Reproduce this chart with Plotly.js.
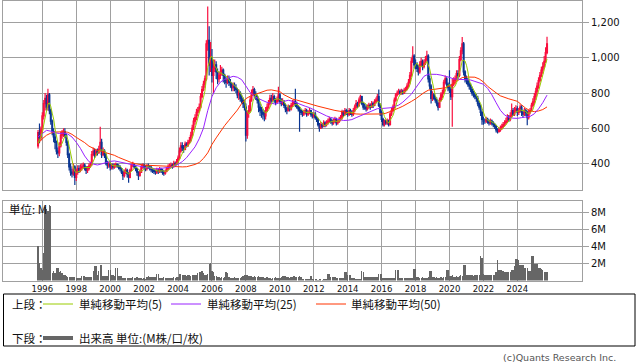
<!DOCTYPE html>
<html>
<head>
<meta charset="utf-8">
<script src="https://cdn.plot.ly/plotly-3.0.1.min.js"></script>
<style>
html,body{margin:0;padding:0;background:#fff;}
#chart{width:638px;height:362px;}
</style>
</head>
<body>
<div id="chart"></div>
<script>
// ---- data (monthly, starting Oct 1995) ----
const START_YEAR = 1995;
const START_MONTH = 10;

const openPrice = [
500,575,545,
590,670,740,770,720,790,700,640,580,550,520,470,
460,500,560,575,580,560,520,450,380,350,340,380,
320,350,370,360,375,380,390,375,360,370,385,395,
450,470,450,470,460,480,520,450,470,450,400,390,
395,380,390,380,390,395,385,380,370,350,330,350,
360,340,320,360,390,395,380,370,350,330,350,380,
390,380,370,385,380,375,365,360,355,350,360,355,
365,360,350,345,355,370,380,385,390,385,400,395,
410,430,470,500,490,480,510,500,520,530,560,600,
640,660,690,700,720,780,820,850,880,1080,1100,960,
1000,900,940,960,920,880,900,920,930,900,870,860,
880,860,850,830,840,830,820,790,800,770,760,740,
720,560,690,700,760,800,820,790,780,760,720,700,
690,680,670,700,720,740,770,760,780,760,750,760,
790,750,740,750,730,710,700,720,710,730,740,750,
740,720,710,700,690,680,690,700,680,690,700,680,
670,680,660,650,620,600,620,610,630,620,630,640,
650,640,630,640,650,630,640,650,660,690,680,700,
690,680,700,690,680,700,720,740,730,760,780,740,
720,720,710,720,730,720,740,730,750,760,780,730,
690,650,620,640,630,640,620,680,700,720,760,790,
800,810,800,810,800,815,820,840,860,900,980,1010,
960,960,940,920,960,980,950,970,990,1010,880,840,
770,790,770,760,740,720,760,790,800,860,880,850,
830,820,780,850,870,880,910,900,990,1040,1080,920,
880,870,850,840,820,800,790,780,770,740,720,690,
650,640,640,650,640,630,640,630,620,610,590,580,
590,600,610,620,630,640,660,650,670,700,680,700,
710,690,700,720,690,680,700,690,660,690,700,730,
750,780,810,840,870,900,930,950,980,1030
];

const highPrice = [
590,627,610,
690,760,800,790,825,800,710,650,600,570,530,490,
520,580,590,600,600,570,530,460,400,370,400,390,
370,390,390,395,400,405,400,385,385,400,410,470,
490,485,480,485,500,608,540,490,480,460,415,410,
410,400,400,400,405,400,395,390,375,360,365,375,
370,350,370,400,410,400,390,375,355,365,395,400,
400,390,395,400,390,385,375,370,365,375,370,380,
375,370,360,365,380,395,400,405,400,415,410,425,
445,490,520,520,505,525,520,535,550,580,620,660,
680,710,720,740,800,840,870,900,1100,1292,1180,1090,
1050,990,990,980,940,920,960,950,940,910,890,900,
900,880,860,860,860,850,830,820,810,790,775,760,
740,700,730,780,820,840,830,810,790,770,740,720,
710,700,720,740,760,790,790,800,790,770,780,835,
800,770,770,760,740,720,735,730,745,760,765,825,
750,730,720,710,700,705,715,710,700,715,705,690,
690,695,670,660,630,635,630,645,640,645,655,665,
660,650,655,665,660,650,665,675,705,700,715,710,
700,715,710,700,715,735,760,750,775,790,785,750,
740,735,735,745,740,755,750,765,775,795,820,740,
700,660,650,650,655,650,690,715,735,775,800,815,
825,820,825,820,830,835,855,880,920,1000,1066,1020,
990,975,960,980,1000,990,990,1010,1040,1020,900,850,
810,800,785,775,750,775,805,820,875,900,890,860,
930,850,880,890,900,930,930,1010,1060,1118,1090,930,
900,885,870,855,835,815,805,795,785,755,735,700,
665,655,665,660,650,655,650,640,630,620,600,605,
615,625,635,645,660,680,675,690,740,715,720,730,
725,715,735,730,705,715,710,700,705,715,745,770,
800,830,860,890,920,950,975,1010,1060,1120
];

const lowPrice = [
485,515,530,
570,650,700,700,700,680,620,560,520,480,450,430,
440,490,540,550,545,500,430,360,330,320,330,277,
300,335,345,350,360,370,360,340,345,360,375,385,
440,430,440,445,455,470,430,440,430,390,370,375,
360,365,365,370,375,375,365,355,340,305,320,340,
320,290,315,355,380,370,355,330,305,325,345,370,
365,355,360,370,360,350,345,340,335,340,340,345,
345,335,330,335,350,360,370,375,370,375,380,390,
400,420,460,470,460,475,490,495,510,520,550,590,
620,645,670,690,710,770,810,830,870,1040,900,920,
860,800,920,880,850,860,880,900,860,850,830,850,
840,830,810,810,810,800,770,760,750,740,715,700,
525,540,660,690,750,790,770,760,740,690,670,660,
650,640,650,690,710,730,745,750,745,730,740,750,
740,725,730,715,690,680,695,695,700,720,730,720,
710,695,580,675,665,670,680,665,670,680,665,655,
660,650,635,610,580,595,600,605,605,610,620,630,
625,615,620,630,615,620,630,640,650,665,670,675,
665,670,675,665,670,690,710,715,720,745,730,705,
705,695,700,710,705,715,715,725,740,750,720,670,
635,610,610,620,620,610,615,670,690,710,750,780,
790,790,790,790,795,805,815,830,850,890,970,940,
935,920,900,910,950,930,940,960,980,860,820,740,
755,760,745,725,700,715,750,770,795,850,835,810,
800,760,608,840,850,870,880,890,980,1020,900,860,
850,835,820,805,785,775,765,750,725,705,670,620,
620,625,630,625,615,620,615,605,595,575,570,575,
580,590,600,610,620,630,635,640,660,670,670,690,
670,675,690,670,660,670,670,617,650,680,695,720,
735,760,795,825,860,890,910,940,970,1020
];

const closePrice = [
575,545,590,
670,740,770,720,790,700,640,580,550,520,470,460,
500,560,575,580,560,520,450,380,350,340,380,320,
350,370,360,375,380,390,375,360,370,385,395,450,
470,450,470,460,480,520,450,470,450,400,390,395,
380,390,380,390,395,385,380,370,350,330,350,360,
340,320,360,390,395,380,370,350,330,350,380,390,
380,370,385,380,375,365,360,355,350,360,355,365,
360,350,345,355,370,380,385,390,385,400,395,410,
430,470,500,490,480,510,500,520,530,560,600,640,
660,690,700,720,780,820,850,880,1080,1100,960,1000,
900,940,960,920,880,900,920,930,900,870,860,880,
860,850,830,840,830,820,790,800,770,760,740,720,
560,690,700,760,800,820,790,780,760,720,700,690,
680,670,700,720,740,770,760,780,760,750,760,790,
750,740,750,730,710,700,720,710,730,740,750,740,
720,710,700,690,680,690,700,680,690,700,680,670,
680,660,650,620,600,620,610,630,620,630,640,650,
640,630,640,650,630,640,650,660,690,680,700,690,
680,700,690,680,700,720,740,730,760,780,740,720,
720,710,720,730,720,740,730,750,760,780,730,690,
650,620,640,630,640,620,680,700,720,760,790,800,
810,800,810,800,815,820,840,860,900,980,1010,960,
960,940,920,960,980,950,970,990,1010,880,840,770,
790,770,760,740,720,760,790,800,860,880,850,830,
820,780,850,870,880,910,900,990,1040,1080,920,880,
870,850,840,820,800,790,780,770,740,720,690,650,
640,640,650,640,630,640,630,620,610,590,580,590,
600,610,620,630,640,660,650,670,700,680,700,710,
690,700,720,690,680,700,690,660,690,700,730,750,
780,810,840,870,900,930,950,980,1030,1080
];

// volume, millions of shares
const volumeM = [
4.1,2.1,1.5,
1.3,3.3,8.7,8.5,8.2,8.9,8.8,0.9,1.1,0.9,1.5,1.5,
1.0,1.1,0.9,0.7,0.6,0.5,0.4,0.4,0.4,0.4,0.4,0.4,
0.3,0.3,0.3,0.3,0.5,0.5,0.5,0.4,0.4,0.4,0.4,0.4,
1.1,1.7,1.7,0.6,1.1,1.8,1.8,0.5,0.5,0.5,0.5,1.2,
1.2,0.7,0.7,0.5,1.5,1.5,0.5,0.5,0.5,0.3,0.3,0.3,
0.3,0.3,0.3,0.3,0.4,0.3,0.3,0.4,0.3,0.3,0.3,0.2,
0.3,0.2,0.4,0.5,0.4,0.4,0.4,0.4,0.4,0.8,0.8,0.3,
0.3,0.3,0.4,0.3,0.3,0.3,0.3,0.3,0.3,0.4,0.3,0.4,
0.4,0.8,0.8,0.7,0.6,0.6,0.5,0.6,0.6,0.5,0.6,0.7,
0.6,0.7,0.9,1.0,1.0,1.1,0.9,0.7,0.7,0.8,2.0,2.1,
1.1,1.0,0.5,0.5,0.4,0.4,0.3,0.4,0.3,0.4,1.0,0.9,
0.4,0.3,0.3,0.3,0.4,0.3,0.3,0.3,0.3,0.4,0.5,0.6,
0.7,0.6,0.5,0.5,0.5,0.4,0.5,0.4,0.4,0.5,0.4,0.4,
0.4,0.3,0.3,0.4,0.3,0.3,0.2,0.3,0.3,0.4,0.3,0.3,
0.3,0.4,0.5,0.5,0.5,0.4,0.4,0.3,0.4,0.4,0.5,0.4,
0.4,0.4,0.5,0.4,0.2,0.2,0.2,0.2,0.2,0.2,0.5,0.2,
0.2,0.2,0.2,0.1,0.2,0.2,0.1,0.2,0.2,0.2,0.8,0.8,
0.4,0.4,0.4,0.4,0.3,0.3,0.3,0.3,0.3,0.3,1.0,1.0,
0.6,0.6,0.6,0.3,0.3,0.3,0.2,0.2,0.2,0.2,1.1,1.0,
0.4,0.4,0.4,0.4,0.4,0.4,0.4,0.4,0.4,0.4,0.8,0.8,
0.8,0.3,0.3,0.3,0.3,0.3,0.3,0.3,0.3,0.3,1.2,1.2,
1.2,0.3,0.3,0.3,0.3,0.3,0.3,0.3,0.3,0.3,0.3,1.4,
1.4,0.4,0.4,0.3,0.3,0.4,0.3,0.3,0.3,0.4,1.1,1.1,
0.4,0.4,0.3,0.4,0.3,0.3,0.4,0.3,0.4,0.4,1.3,1.3,
0.5,0.5,0.6,0.4,0.4,0.5,0.4,0.5,0.6,0.5,1.8,1.8,
0.6,0.6,0.7,0.6,0.6,0.5,0.6,0.6,0.6,0.6,2.9,2.7,
0.8,0.7,0.7,0.7,0.7,0.6,0.7,0.7,0.7,1.0,2.4,1.3,
1.2,1.2,1.1,1.0,1.0,1.0,1.0,1.0,1.2,1.2,1.7,2.5,
2.5,2.4,1.8,1.8,1.8,1.5,1.5,1.5,1.1,1.1,2.9,2.9,
1.9,1.9,1.9,1.5,1.5,1.4,1.3,1.0,1.0,1.0
];

// 単純移動平均(5), read monthly
const ma5 = [
515,530,550,
580,624,663,698,738,744,724,686,652,598,552,516,
500,502,513,535,555,559,537,498,452,408,380,354,
348,352,356,355,367,375,376,376,375,376,377,392,
414,430,447,460,466,476,476,476,474,458,432,421,
403,391,387,387,387,388,386,384,376,363,356,352,
346,340,346,354,361,369,379,377,365,356,356,360,
366,374,381,381,378,375,373,367,361,358,356,357,
358,358,355,355,356,360,367,376,382,388,391,396,
404,421,441,460,474,490,496,500,508,524,542,570,
598,630,658,682,710,742,774,810,882,946,974,1004,
1008,980,952,944,920,920,916,910,906,904,896,888,
874,864,856,852,842,834,822,816,802,788,772,758,
710,694,682,686,702,754,774,790,790,774,750,730,
710,692,688,692,702,720,738,754,762,764,762,768,
762,758,758,752,736,726,722,714,714,720,730,734,
736,732,724,712,700,694,692,688,688,692,690,684,
684,678,668,656,642,630,620,616,616,622,626,634,
636,638,640,642,638,638,642,646,654,664,676,684,
688,690,692,688,690,698,706,714,730,746,750,746,
744,734,722,720,720,724,728,734,740,752,750,742,
722,694,666,646,636,630,642,654,672,696,730,754,
776,792,802,804,807,809,817,827,847,880,918,942,
962,970,958,948,952,950,956,970,980,960,938,898,
858,810,786,766,756,750,754,762,786,818,836,844,
848,832,826,830,840,858,882,910,944,984,986,982,
958,920,872,852,836,820,806,792,776,760,740,714,
688,668,654,644,640,640,638,632,626,618,606,598,
594,594,600,610,620,632,640,650,664,672,680,692,
696,696,704,702,696,698,696,684,684,688,694,706,
730,754,782,810,840,870,898,926,958,994
];

// 単純移動平均(25) and (50), read every 3 months
const MA_STEP = 3;
const ma25Quarterly = [
551,572,588,583,574,570,572,567,550,520,
485,442,410,396,391,397,405,411,414,410,
405,399,393,388,382,376,372,370,369,372,
375,378,381,395,410,432,460,494,540,600,
700,780,830,862,878,888,895,890,876,840,
803,780,767,757,747,740,737,746,754,759,
753,743,731,725,717,705,690,680,670,661,
655,649,644,645,649,660,670,683,693,704,
711,712,713,716,723,731,748,770,793,828,
862,895,907,907,906,902,897,889,880,878,
879,878,874,866,858,850,826,790,745,702,
675,662,657,656,660,663,667,682,710,745,
788
];
const ma50Quarterly = [
513,540,560,572,578,580,580,577,565,548,
535,518,498,484,474,468,462,456,446,434,
423,413,405,398,392,390,389,388,386,384,
382,380,379,379,380,381,386,394,405,428,
460,508,545,582,615,645,673,703,740,768,
782,791,802,810,816,818,815,808,790,776,
766,760,752,745,738,732,725,718,712,706,
701,697,692,688,684,681,680,680,680,680,
680,681,685,694,702,714,725,737,752,767,
785,802,816,820,822,825,830,839,857,875,
888,891,892,890,880,863,838,818,801,784,
774,767,760,753,733,713,700,694,698,706,
721
];

// tick labels
const yearLabels = ['1996','1998','2000','2002','2004','2006','2008','2010','2012','2014','2016','2018','2020','2022','2024'];
const priceTickVals = [400,600,800,1000,1200];
const priceTickText = ['400','600','800','1,000','1,200'];
const volTickVals = [2,4,6,8];
const volTickText = ['2M','4M','6M','8M'];

// ---- build ----
function monthDate(i){
  const t = (START_MONTH - 1) + i;
  const y = START_YEAR + Math.floor(t / 12);
  const m = (t % 12) + 1;
  return y + '-' + (m < 10 ? '0' : '') + m + '-01';
}
const months = closePrice.map((_, i) => monthDate(i));
const quarterMonths = ma25Quarterly.map((_, k) => monthDate(k * MA_STEP));
const yearTickVals = yearLabels.map(y => y + '-01-01');

const W = 638, H = 362;
const px = x => x / W;
const py = y => 1 - y / H;

const RED = '#fa0f3e', BLUE = '#0a3592';
const GRID = '#a0a0a0';
const C_MA5 = '#99cc00', C_MA25 = '#9922ff', C_MA50 = '#ff3300';
const JP = 'Noto Sans CJK JP, sans-serif';
const LAT = 'DejaVu Sans, sans-serif';

const traces = [
  {
    type: 'candlestick', x: months,
    open: openPrice, high: highPrice, low: lowPrice, close: closePrice,
    xaxis: 'x', yaxis: 'y',
    increasing: {line: {color: RED, width: 1.2}, fillcolor: RED},
    decreasing: {line: {color: BLUE, width: 1.2}, fillcolor: BLUE},
    whiskerwidth: 0, hoverinfo: 'none', showlegend: false
  },
  {type: 'scatter', mode: 'lines', x: quarterMonths, y: ma50Quarterly, xaxis: 'x', yaxis: 'y',
   line: {color: C_MA50, width: 1}, hoverinfo: 'none', showlegend: false},
  {type: 'scatter', mode: 'lines', x: quarterMonths, y: ma25Quarterly, xaxis: 'x', yaxis: 'y',
   line: {color: C_MA25, width: 1}, hoverinfo: 'none', showlegend: false},
  {type: 'scatter', mode: 'lines', x: months, y: ma5, xaxis: 'x', yaxis: 'y',
   line: {color: C_MA5, width: 1}, hoverinfo: 'none', showlegend: false},
  {type: 'bar', x: months, y: volumeM, xaxis: 'x2', yaxis: 'y2',
   marker: {color: '#666666', line: {width: 0}}, hoverinfo: 'none', showlegend: false}
];

const xRange = ['1993-09-13', '2027-10-24'];
const xCommon = {
  type: 'date', range: xRange, domain: [px(3.3), px(582)],
  tickvals: yearTickVals, ticktext: yearLabels,
  showgrid: true, gridcolor: GRID, gridwidth: 1,
  showline: true, linecolor: GRID, linewidth: 1, mirror: true,
  zeroline: false, ticks: '', fixedrange: true
};

const layout = {
  width: W, height: H,
  margin: {l: 0, r: 0, t: 0, b: 0},
  paper_bgcolor: '#ffffff', plot_bgcolor: '#ffffff',
  showlegend: false, hovermode: false, bargap: 0, boxgap: 0.05,
  xaxis: Object.assign({}, xCommon, {anchor: 'y', showticklabels: false, rangeslider: {visible: false}}),
  xaxis2: Object.assign({}, xCommon, {anchor: 'y2', showticklabels: true,
    tickfont: {family: LAT, size: 8.5, color: '#111'}}),
  yaxis: {
    domain: [py(190.3), py(0.5)], range: [247, 1326], anchor: 'x', side: 'right',
    tickvals: priceTickVals, ticktext: priceTickText,
    showgrid: true, gridcolor: GRID, gridwidth: 1,
    showline: true, linecolor: GRID, linewidth: 1, mirror: true, zeroline: false,
    ticks: 'outside', ticklen: 6, tickcolor: GRID, tickwidth: 1,
    tickfont: {family: LAT, size: 10, color: '#111'}, fixedrange: true
  },
  yaxis2: {
    domain: [py(280.5), py(201)], range: [0, 9.4], anchor: 'x2', side: 'right',
    tickvals: volTickVals, ticktext: volTickText,
    showgrid: true, gridcolor: GRID, gridwidth: 1,
    showline: true, linecolor: GRID, linewidth: 1, mirror: true, zeroline: false,
    ticks: 'outside', ticklen: 6, tickcolor: GRID, tickwidth: 1,
    tickfont: {family: LAT, size: 10, color: '#111'}, fixedrange: true
  },
  shapes: [
    {type: 'rect', xref: 'paper', yref: 'paper', x0: px(3.5), x1: px(635), y0: py(346), y1: py(294),
     line: {color: '#000', width: 1}, fillcolor: 'rgba(0,0,0,0)'},
    {type: 'line', xref: 'paper', yref: 'paper', x0: px(43), x1: px(73), y0: py(304), y1: py(304), line: {color: C_MA5, width: 1}},
    {type: 'line', xref: 'paper', yref: 'paper', x0: px(171), x1: px(201), y0: py(304), y1: py(304), line: {color: C_MA25, width: 1}},
    {type: 'line', xref: 'paper', yref: 'paper', x0: px(316), x1: px(346), y0: py(304), y1: py(304), line: {color: C_MA50, width: 1}},
    {type: 'line', xref: 'paper', yref: 'paper', x0: px(43), x1: px(73), y0: py(338), y1: py(338), line: {color: '#666666', width: 4}}
  ],
  annotations: [
    {text: '上段：', x: px(10), y: py(304)},
    {text: '単純移動平均(5)', x: px(77), y: py(304)},
    {text: '単純移動平均(25)', x: px(205), y: py(304)},
    {text: '単純移動平均(50)', x: px(349), y: py(304)},
    {text: '下段：', x: px(10), y: py(338)},
    {text: '出来高 単位:(M株/口/枚)', x: px(77), y: py(338)},
    {text: '単位: M', x: px(7), y: py(209)}
  ].map(a => Object.assign({xref: 'paper', yref: 'paper', xanchor: 'left', yanchor: 'middle',
      showarrow: false, font: {family: JP, size: 11.5, color: '#111'}}, a)).concat([
    {text: '(c)Quants Research Inc.', x: px(618), y: py(357), xref: 'paper', yref: 'paper',
     xanchor: 'right', yanchor: 'middle', showarrow: false,
     font: {family: LAT, size: 9.5, color: '#555'}}
  ])
};

Plotly.newPlot('chart', traces, layout, {staticPlot: true, displayModeBar: false});
</script>
</body>
</html>
